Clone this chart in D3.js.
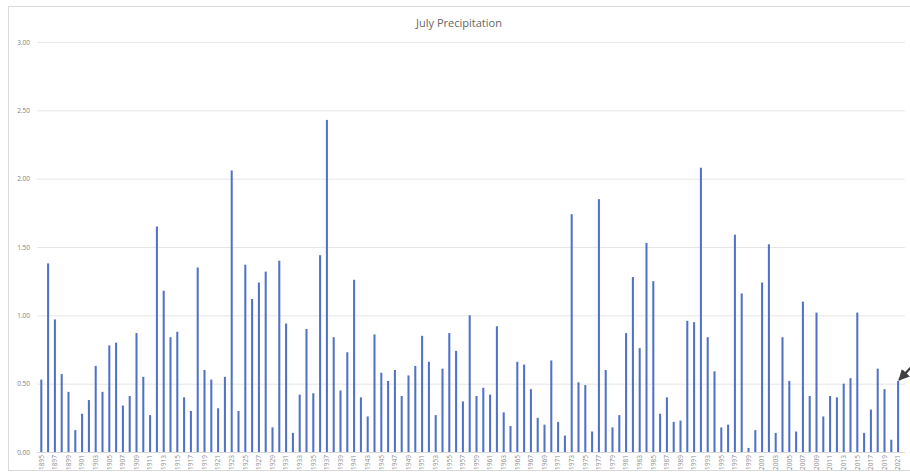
<!DOCTYPE html>
<html>
<head>
<meta charset="utf-8">
<script src="https://cdn.jsdelivr.net/npm/d3@7"></script>
<style>
  body { margin: 0; background: #fff; }
  svg { display: block; font-family: "Open Sans", sans-serif; }
</style>
</head>
<body>
<div id="chart"></div>
<script>
// July precipitation, 1895 - 2021 (inches)
var years = d3.range(1895, 2022);
var precip = [
	0.53, 1.38, 0.97, 0.57, 0.44, 0.16, 0.28, 0.38, 0.63, 0.44,
	0.78, 0.80, 0.34, 0.41, 0.87, 0.55, 0.27, 1.65, 1.18, 0.84,
	0.88, 0.40, 0.30, 1.35, 0.60, 0.53, 0.32, 0.55, 2.06, 0.30,
	1.37, 1.12, 1.24, 1.32, 0.18, 1.40, 0.94, 0.14, 0.42, 0.90,
	0.43, 1.44, 2.43, 0.84, 0.45, 0.73, 1.26, 0.40, 0.26, 0.86,
	0.58, 0.52, 0.60, 0.41, 0.56, 0.63, 0.85, 0.66, 0.27, 0.61,
	0.87, 0.74, 0.37, 1.00, 0.41, 0.47, 0.42, 0.92, 0.29, 0.19,
	0.66, 0.64, 0.46, 0.25, 0.20, 0.67, 0.22, 0.12, 1.74, 0.51,
	0.49, 0.15, 1.85, 0.60, 0.18, 0.27, 0.87, 1.28, 0.76, 1.53,
	1.25, 0.28, 0.40, 0.22, 0.23, 0.96, 0.95, 2.08, 0.84, 0.59,
	0.18, 0.20, 1.59, 1.16, 0.03, 0.16, 1.24, 1.52, 0.14, 0.84,
	0.52, 0.15, 1.10, 0.41, 1.02, 0.26, 0.41, 0.40, 0.50, 0.54,
	1.02, 0.14, 0.31, 0.61, 0.46, 0.09, 0.52
];
var yTicks = [0, 0.5, 1, 1.5, 2, 2.5, 3];
var xLabels = years.filter(function(d, i) { return i % 2 === 0; });

var width = 910, height = 472;

var svg = d3.select('#chart').append('svg')
	.attr('width', width)
	.attr('height', height);

// chart frame
svg.append('rect')
	.attr('x', 8.5).attr('y', 6.5)
	.attr('width', 910).attr('height', 464)
	.attr('fill', 'none')
	.attr('stroke', '#d9d9d9');

svg.append('text')
	.attr('x', 459).attr('y', 27)
	.attr('text-anchor', 'middle')
	.attr('font-size', 11)
	.attr('fill', '#666')
	.text('July Precipitation');

var x = d3.scaleBand().domain(years).range([37.9, 901.5]).paddingInner(0.7).paddingOuter(0.35),
    y = d3.scaleLinear().domain([0, 3]).range([452, 42]);

// gridlines + y labels
var yAxis = svg.append('g')
	.attr('transform', 'translate(37,0)')
	.call(d3.axisLeft(y).tickValues(yTicks).tickFormat(d3.format('.2f')).tickSize(-868).tickPadding(7));
yAxis.select('.domain').remove();
yAxis.selectAll('.tick line').attr('stroke', '#e6e6e6');
yAxis.selectAll('.tick text').attr('fill', '#7f7f7f').attr('font-size', 6.5).attr('font-family', '"Open Sans", sans-serif');

svg.append('g').selectAll('.bar')
	.data(precip)
	.enter().append('rect')
	  .attr('class', 'bar')
	  .attr('x', function(d, i) { return x(years[i]); })
	  .attr('y', function(d) { return y(d); })
	  .attr('width', x.bandwidth())
	  .attr('height', function(d) { return y(0) - y(d); })
	  .attr('fill', '#5071c6');

// x axis line + rotated year labels
svg.append('line')
	.attr('x1', 37).attr('x2', 905)
	.attr('y1', y(0) + 0.5).attr('y2', y(0) + 0.5)
	.attr('stroke', '#d9d9d9');

svg.append('g')
	.selectAll('text')
	.data(xLabels)
	.enter().append('text')
	  .attr('transform', function(d) { return 'translate(' + (x(d) + x.bandwidth() / 2 + 2.3) + ',455) rotate(-90)'; })
	  .attr('text-anchor', 'end')
	  .attr('font-size', 6.5)
	  .attr('fill', '#8c8c8c')
	  .text(function(d) { return d; });

// annotation arrow pointing at the last bar
var last = years[years.length - 1];
var ax = x(last) + x.bandwidth() / 2, ay = y(precip[precip.length - 1]);
svg.append('defs').append('marker')
	.attr('id', 'arrow')
	.attr('viewBox', '0 0 10 10')
	.attr('refX', 9).attr('refY', 5)
	.attr('markerWidth', 5).attr('markerHeight', 5)
	.attr('orient', 'auto')
	.append('path').attr('d', 'M0,0 L10,5 L0,10 z').attr('fill', '#404040');
svg.append('line')
	.attr('x1', 916).attr('y1', ay - 19)
	.attr('x2', ax + 1).attr('y2', ay - 1)
	.attr('stroke', '#404040')
	.attr('stroke-width', 2.2)
	.attr('marker-end', 'url(#arrow)');
</script>
</body>
</html>
